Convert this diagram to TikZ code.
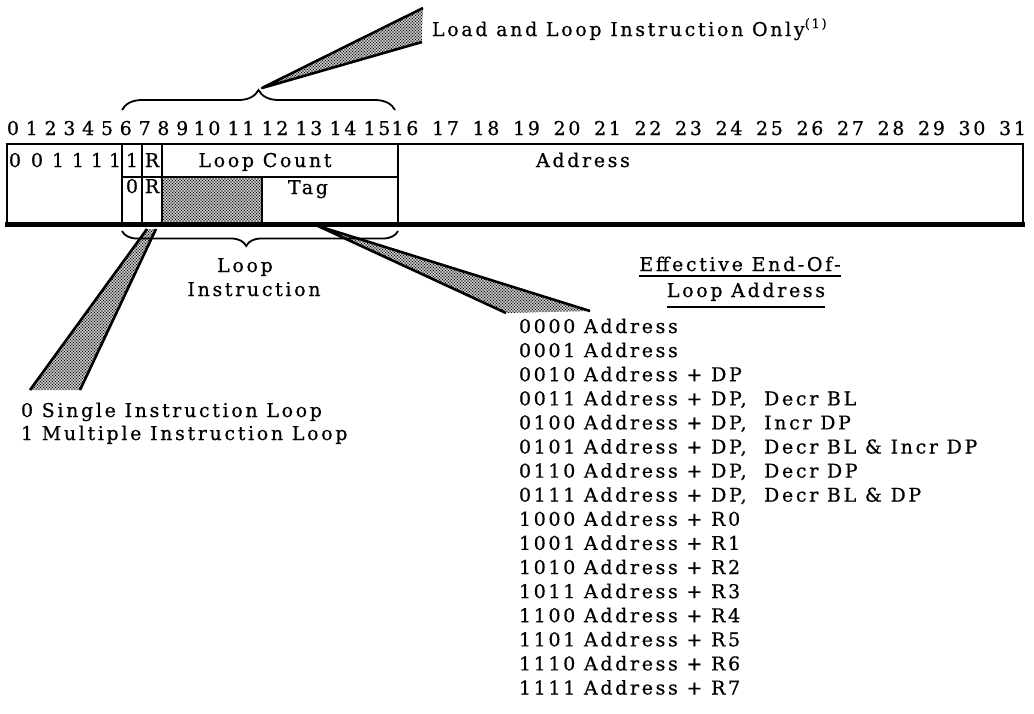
\documentclass[tikz,border=0pt]{standalone}
\usepackage{fontspec}
\setmainfont{DejaVu Serif}[LetterSpace=14,FakeBold=0.6]
\usetikzlibrary{patterns,decorations.pathreplacing}
\pgfdeclarepatternformonly{refdots}{\pgfqpoint{-1pt}{-1pt}}{\pgfqpoint{2.5pt}{2.5pt}}{\pgfqpoint{3pt}{3pt}}{%
  \pgfpathcircle{\pgfqpoint{0pt}{0pt}}{0.8pt}%
  \pgfpathcircle{\pgfqpoint{1.5pt}{1.5pt}}{0.8pt}%
  \pgfusepath{fill}}
\begin{document}
\begin{tikzpicture}[x=1pt,y=-1pt,
  txt/.style={font=\fontsize{19}{23}\selectfont, inner sep=0pt, outer sep=0pt},
  frame/.style={line width=1.8pt},
  shaded/.style={pattern=refdots},
  edge/.style={line width=2.6pt, line join=round},
  curly/.style={decorate, decoration={brace, amplitude=#1}, line width=1.8pt},
  uline/.style={line width=1.4pt}]
\fill[white] (0,0) rectangle (1034,713);
\useasboundingbox (0,0) rectangle (1034,713);

% ---- instruction word box ----
\fill[shaded] (162,177) rectangle (262,222);
\draw[frame] (7,144) rectangle (1023,224);
\draw[line width=5pt] (5,224.5) -- (1025,224.5);
\draw[frame] (122,144) -- (122,224) (142,144) -- (142,224) (162,144) -- (162,224)
  (398,144) -- (398,224) (122,177) -- (398,177) (262,177) -- (262,222);

\foreach \d/\x [count=\i] in {0/15,0/37,1/58,1/78,1/97,1/115}
  \node[txt, anchor=base] (op\i) at (\x,167) {\d};
\node[txt, anchor=base] (one) at (132,167) {1};
\node[txt, anchor=base] (r1) at (152,167) {R};
\node[txt, anchor=base] (zero) at (132,193) {0};
\node[txt, anchor=base] (r2) at (152,193) {R};
\node[txt, anchor=base] (lc) at (265,167) {Loop Count};
\node[txt, anchor=base] (tag) at (308,194) {Tag};
\node[txt, anchor=base] (addr) at (583,167) {Address};

% ---- bit numbers ----
\foreach \n/\x in {0/13,1/31.8,2/50.6,3/69.4,4/88.2,5/107,6/125.8,7/144.6,8/163.4,9/182.2,
  10/207,11/241,12/275,13/309,14/343,15/377}
  \node[txt, anchor=base] (b\n) at (\x,135) {\n};
\foreach \n in {16,...,31}
  \node[txt, anchor=base] (b\n) at ({405+40.5*(\n-16)},135) {\n};

% ---- braces ----
\draw[curly=20] (122,110) -- (395,110);
\coordinate (topcusp) at (262,88);
\draw[curly=15, decoration={aspect=0.55}] (398,231) -- (122,231);

% ---- wedges ----
\coordinate (tw1) at (423,8);
\coordinate (tw2) at (422,42);
\fill[shaded] (topcusp) -- (tw1) -- (tw2) -- cycle;
\draw[edge] (tw1) -- (topcusp) -- (tw2);

\coordinate (lw1) at (147,229);
\coordinate (lw2) at (156,229);
\coordinate (lw3) at (80,390);
\coordinate (lw4) at (30,390);
\fill[shaded] (lw1) -- (lw2) -- (lw3) -- (lw4) -- cycle;
\draw[edge] (lw1) -- (lw4) (lw2) -- (lw3);

\coordinate (rw) at (318,226);
\coordinate (rw1) at (590,311);
\coordinate (rw2) at (506,313);
\fill[shaded] (rw) -- (rw1) -- (rw2) -- cycle;
\draw[edge] (rw1) -- (rw) -- (rw2);

% ---- labels ----
\node[txt, anchor=base west] (load) at (432,36) {Load and Loop Instruction Only\raisebox{8pt}{\fontsize{13}{13}\selectfont(1)}};
\node[txt, anchor=base] (loop) at (245,272) {Loop};
\node[txt, anchor=base] (instr) at (254,296) {Instruction};

\node[txt, anchor=base] (eff) at (740,271) {Effective End-Of-};
\node[txt, anchor=base] (ela) at (746,297) {Loop Address};
\draw[uline] ([yshift=-5pt]eff.base west) -- ([yshift=-5pt]eff.base east);
\draw[uline] ([yshift=-10pt]ela.base west) -- ([yshift=-10pt]ela.base east);

\node[txt, anchor=base west] (s0) at (21,417) {0 Single Instruction Loop};
\node[txt, anchor=base west] (s1) at (21,440) {1 Multiple Instruction Loop};

\node[txt, anchor=base west] (l0) at (519,333) {0000 Address};
\node[txt, anchor=base west] (l1) at (519,357.1) {0001 Address};
\node[txt, anchor=base west] (l2) at (519,381.2) {0010 Address + DP};
\node[txt, anchor=base west] (l3) at (519,405.3) {0011 Address + DP,~ Decr BL};
\node[txt, anchor=base west] (l4) at (519,429.4) {0100 Address + DP,~ Incr DP};
\node[txt, anchor=base west] (l5) at (519,453.5) {0101 Address + DP,~ Decr BL \& Incr DP};
\node[txt, anchor=base west] (l6) at (519,477.6) {0110 Address + DP,~ Decr DP};
\node[txt, anchor=base west] (l7) at (519,501.7) {0111 Address + DP,~ Decr BL \& DP};
\node[txt, anchor=base west] (l8) at (519,525.8) {1000 Address + R0};
\node[txt, anchor=base west] (l9) at (519,549.9) {1001 Address + R1};
\node[txt, anchor=base west] (l10) at (519,574) {1010 Address + R2};
\node[txt, anchor=base west] (l11) at (519,598.1) {1011 Address + R3};
\node[txt, anchor=base west] (l12) at (519,622.2) {1100 Address + R4};
\node[txt, anchor=base west] (l13) at (519,646.3) {1101 Address + R5};
\node[txt, anchor=base west] (l14) at (519,670.4) {1110 Address + R6};
\node[txt, anchor=base west] (l15) at (519,694.5) {1111 Address + R7};
\end{tikzpicture}
\end{document}
